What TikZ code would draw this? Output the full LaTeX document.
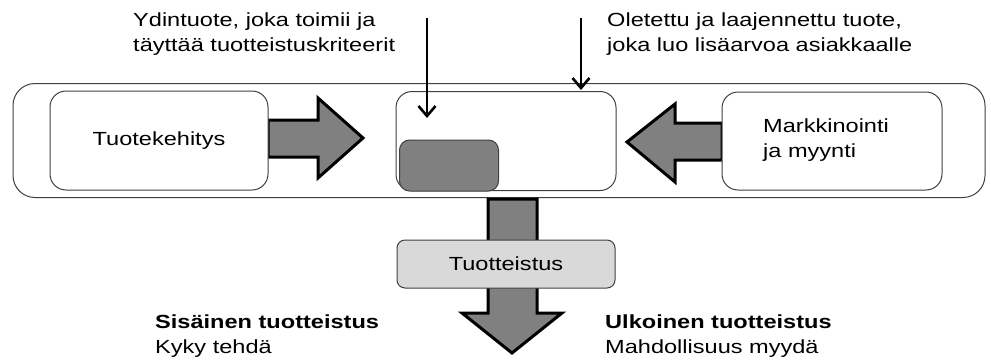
\documentclass[tikz,border=0pt]{standalone}
\usepackage{fontspec}
\setmainfont[FakeStretch=1.24]{Liberation Sans}
\usetikzlibrary{arrows.meta}
\definecolor{boxline}{HTML}{404040}
\definecolor{fatgray}{HTML}{808080}
\definecolor{lightgray}{HTML}{D9D9D9}
\tikzset{
  txt/.style={font=\fontsize{19}{25}\selectfont, inner sep=0pt, align=left},
  rbox/.style={draw=boxline, line width=1pt, rounded corners=16pt, fill=white, inner sep=0pt},
  fatarrow/.style={draw=black, line width=3pt, fill=fatgray, line join=miter},
  thinarrow/.style={draw=black, line width=2.6pt, -{Straight Barb[length=10pt,width=17pt,line width=2.6pt]}},
}
\begin{document}
\begin{tikzpicture}[x=1pt,y=-1pt]
\useasboundingbox (0,0) rectangle (991,360);

% outer frame
\node[rbox, rounded corners=22pt, minimum width=972pt, minimum height=114pt] (outer) at (499,140.5) {};

% fat arrow right
\draw[fatarrow] (268,120) -- (318,120) -- (318,98) -- (363,138) -- (318,178) -- (318,157) -- (268,157) -- cycle;
% fat arrow left
\draw[fatarrow] (722,123) -- (675,123) -- (675,104) -- (627,142) -- (675,182) -- (675,160) -- (722,160) -- cycle;

% boxes
\node[rbox, minimum width=218pt, minimum height=99pt] (dev) at (159,140.5) {};
\node[txt] at (dev.center) {Tuotekehitys};
\node[rbox, minimum width=220pt, minimum height=99pt] (core) at (506,141) {};
\node[rbox, fill=fatgray, rounded corners=10pt, minimum width=99pt, minimum height=51pt] (inner) at (449,165.5) {};
\node[rbox, minimum width=220pt, minimum height=98pt] (mkt) at (832,141) {};
\node[txt, anchor=west] (mkttxt) at (763,140) {Markkinointi\\ja myynti};

% down fat arrow
\draw[fatarrow] (488,199) -- (537,199) -- (537,313) -- (562,313) -- (512,353) -- (462,313) -- (488,313) -- cycle;
\node[rbox, fill=lightgray, rounded corners=8pt, minimum width=218pt, minimum height=48pt] (prod) at (506,264) {};
\node[txt] at (prod.center) {Tuotteistus};

% top labels and thin arrows
\node[txt, anchor=west] (lab1) at (133,34) {Ydintuote, joka toimii ja\\täyttää tuotteistuskriteerit};
\node[txt, anchor=west] (lab2) at (607,34) {Oletettu ja laajennettu tuote,\\joka luo lisäarvoa asiakkaalle};
\coordinate (a1s) at (427,18);
\coordinate (a1e) at (427,118);
\coordinate (a2s) at (581,18);
\coordinate (a2e) at (581,90);
\draw[thinarrow] (a1s) -- (a1e);
\draw[thinarrow] (a2s) -- (a2e);

% bottom labels
\node[txt, anchor=west] (int) at (155,336) {\textbf{Sisäinen tuotteistus}\\Kyky tehdä};
\node[txt, anchor=west] (ext) at (605,336) {\textbf{Ulkoinen tuotteistus}\\Mahdollisuus myydä};
\end{tikzpicture}
\end{document}
